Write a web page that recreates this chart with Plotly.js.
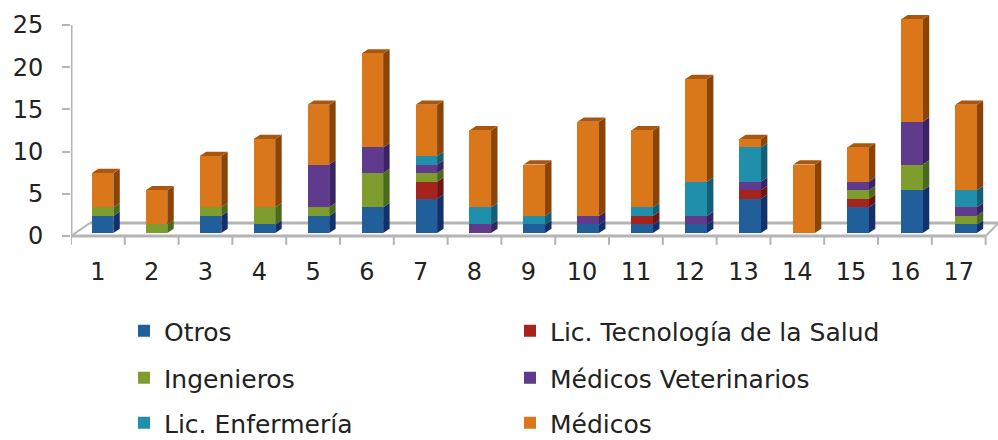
<!DOCTYPE html>
<html>
<head>
<meta charset="utf-8">
<script src="https://cdn.plot.ly/plotly-3.0.1.min.js"></script>
<style>html,body{margin:0;padding:0;background:#fff}#c{width:998px;height:440px}</style>
</head>
<body>
<div id="c"></div>
<script>
var categories = [1,2,3,4,5,6,7,8,9,10,11,12,13,14,15,16,17];
var otros      = [2,0,2,1,2,3,4,0,1,1,1,1,4,0,3,5,1];
var tecnologia = [0,0,0,0,0,0,2,0,0,0,1,0,1,0,1,0,0];
var ingenieros = [1,1,1,2,1,4,1,0,0,0,0,0,0,0,1,3,1];
var veterinarios=[0,0,0,0,5,3,1,1,0,1,0,1,1,0,1,5,1];
var enfermeria = [0,0,0,0,0,0,1,2,1,0,1,4,4,0,0,0,2];
var medicos    = [4,4,6,8,7,11,6,9,6,11,9,12,1,8,4,12,10];
var yTicks = [0,5,10,15,20,25];

var seriesNames = ['Otros','Lic. Tecnología de la Salud','Ingenieros','Médicos Veterinarios','Lic. Enfermería','Médicos'];
var seriesVals  = [otros,tecnologia,ingenieros,veterinarios,enfermeria,medicos];
var faceCol = ['#215F9B','#A6231D','#7F9C2E','#5F3A8D','#1F8FAB','#D9771A'];
var sideCol = ['#14306C','#6E1512','#4A6A1C','#3A2364','#125F76','#8A4408'];
var topCol  = '#A9560F';

var W=998, plotL=71, plotT=10, plotB=250, plotW=W-plotL, plotH=plotB-plotT;
var barW=0.4, depthX=0.12, depthY=0.5;
var grey='#B4B4B4';

var traces = seriesNames.map(function(n,i){
  return {type:'bar',name:n,x:categories,y:seriesVals[i],width:barW,
    xaxis:'x2',yaxis:'y2',marker:{color:faceCol[i],line:{width:0}},
    legend:i===0?'legend':'legend'+(i+1),showlegend:true,hoverinfo:'x+y+name'};
});

var shapes=[];
function line(x0,y0,x1,y1,w){shapes.push({type:'line',xref:'x',yref:'y',x0:x0,y0:y0,x1:x1,y1:y1,layer:'below',line:{color:grey,width:w}});}
var floorEnd=17.5, backY=1.54, backL=0.85, backR=17.73;
line(0.5,0,0.5,25,3);
line(0.5,0,floorEnd,0,3);
line(backL,backY,backR,backY,3);
line(0.5,0,backL,backY,2);
line(floorEnd,0,backR,backY*0.95,2);
categories.concat([18]).forEach(function(c){ line(c-0.5,0,c-0.5,-1.05,2); });

categories.forEach(function(c,k){
  var acc=0,hi=c+barW/2;
  seriesVals.forEach(function(v,i){
    if(!v[k])return;
    var a=acc,b=acc+v[k];acc=b;
    shapes.push({type:'path',xref:'x2',yref:'y2',layer:'below',line:{width:0},fillcolor:sideCol[i],
      path:'M'+hi+','+a+'L'+(hi+depthX)+','+(a+depthY)+'L'+(hi+depthX)+','+(b+depthY)+'L'+hi+','+b+'Z'});
  });
  var lo=c-barW/2;
  shapes.push({type:'path',xref:'x2',yref:'y2',layer:'below',line:{width:0},fillcolor:topCol,
    path:'M'+lo+','+acc+'L'+(lo+depthX)+','+(acc+depthY)+'L'+(hi+depthX)+','+(acc+depthY)+'L'+hi+','+acc+'Z'});
});

var layout={
  width:998,height:440,paper_bgcolor:'#fff',plot_bgcolor:'rgba(0,0,0,0)',
  margin:{l:plotL,r:0,t:plotT,b:440-plotB,pad:0,autoexpand:false},
  barmode:'stack',bargap:0.6,
  font:{family:'"DejaVu Sans",Verdana,sans-serif',color:'#222',size:20},
  xaxis:{range:[0.5,17.73],tickmode:'array',tickvals:categories,ticktext:categories.map(String),ticks:'',
    ticklen:0,ticklabelstandoff:5,tickfont:{size:24},showgrid:false,zeroline:false,showline:false,fixedrange:true},
  yaxis:{range:[-1.659,26.78],tickmode:'array',tickvals:yTicks,ticklen:8,tickwidth:2,tickcolor:grey,ticks:'outside',
    tickfont:{size:24},ticklabelstandoff:14,showgrid:false,zeroline:false,showline:false,fixedrange:true},
  xaxis2:{range:[0.416,17.594],overlaying:'x',visible:false,fixedrange:true},
  yaxis2:{range:[-1.988,26.08],overlaying:'y',visible:false,fixedrange:true},
  shapes:shapes
};

var legX=[124,510], legY=[331,378,423];
seriesNames.forEach(function(n,i){
  var key=i===0?'legend':'legend'+(i+1);
  layout[key]={x:(legX[i%2]-plotL)/plotW,y:(plotB-legY[Math.floor(i/2)])/plotH,
    xanchor:'left',yanchor:'middle',bgcolor:'rgba(0,0,0,0)',borderwidth:0,font:{size:25},itemwidth:30,itemclick:false,itemdoubleclick:false};
});
Plotly.newPlot('c',traces,layout,{displayModeBar:false});
</script>
</body>
</html>
